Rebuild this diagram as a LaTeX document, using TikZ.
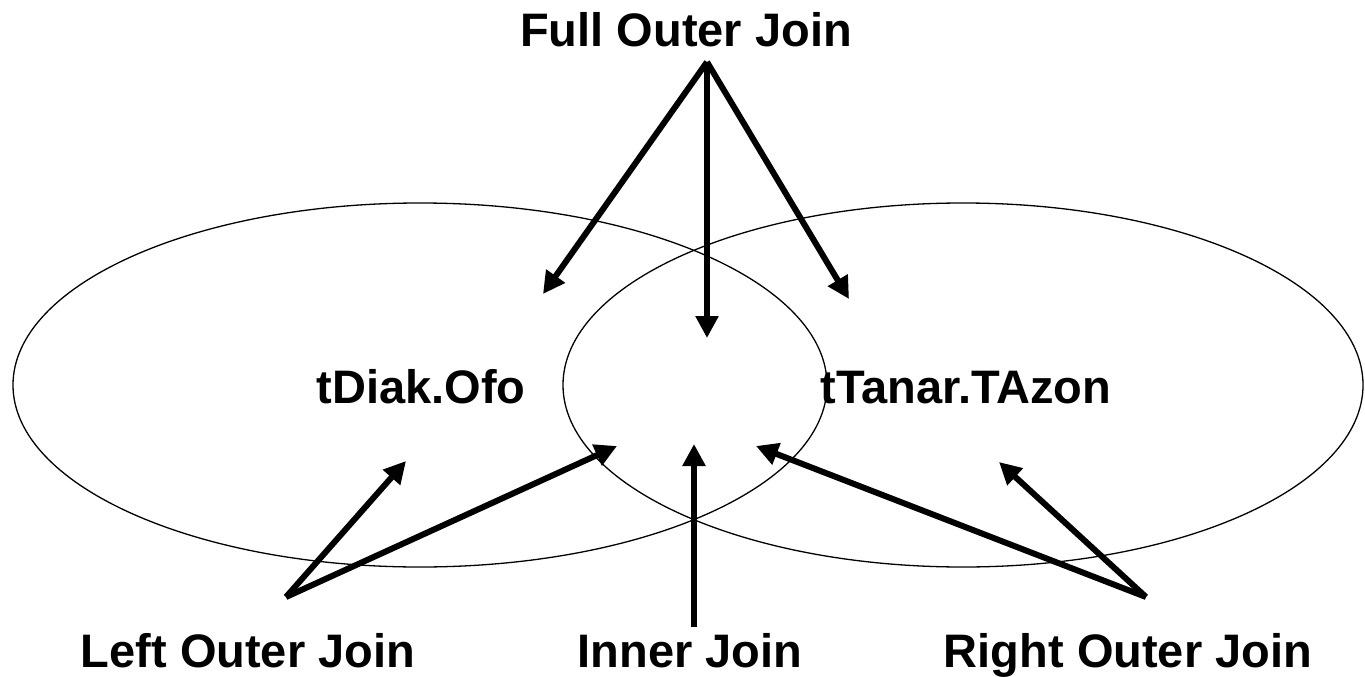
\documentclass[tikz,border=0pt]{standalone}
\usepackage{fontspec}
\setmainfont{Liberation Sans}
\usetikzlibrary{arrows.meta,shapes.geometric}

\tikzset{
  settwo/.style={draw=black, line width=1.3bp, ellipse, inner sep=0pt},
  label/.style={font=\fontsize{47bp}{56bp}\selectfont\bfseries, inner sep=0pt, anchor=base},
  joinarrow/.style={line width=6bp, -{Triangle[length=22bp,width=22bp]}, line join=miter},
}

\begin{document}
\begin{tikzpicture}[x=1bp,y=-1bp]
  \useasboundingbox (0,0) rectangle (1365,677);

  % the two tables as overlapping ellipses
  \node[settwo, minimum width=814bp, minimum height=364bp] (left)  at (420,385) {};
  \node[settwo, minimum width=800bp, minimum height=364bp] (right) at (963,385) {};

  % key column names
  \node[label] (ofo)   at (421,403) {tDiak.Ofo};
  \node[label] (tazon) at (966,403) {tTanar.TAzon};

  % join type labels
  \node[label] (full)  at (686,47)  {Full Outer Join};
  \node[label] (lojn)  at (248,667) {Left Outer Join};
  \node[label] (inner) at (690,667) {Inner Join};
  \node[label] (rojn)  at (1128,667) {Right Outer Join};

  % arrow roots under the labels
  \coordinate (fullroot)  at (707,62);
  \coordinate (leftroot)  at (286,597);
  \coordinate (innerroot) at (694,627);
  \coordinate (rightroot) at (1146,597);

  % arrow targets in the regions
  \coordinate (onlyleft)   at (543,294);
  \coordinate (midtop)     at (707,338);
  \coordinate (onlyright)  at (849,299);
  \coordinate (leftlow)    at (406,461);
  \coordinate (midleft)    at (617,446);
  \coordinate (midlow)     at (694,444);
  \coordinate (midright)   at (756,446);
  \coordinate (rightlow)   at (999,462);

  % Full outer join: all three regions
  \draw[joinarrow] (fullroot) -- (onlyleft);
  \draw[joinarrow] (fullroot) -- (midtop);
  \draw[joinarrow] (fullroot) -- (onlyright);

  % Left outer join
  \draw[joinarrow] (leftroot) -- (leftlow);
  \draw[joinarrow] (leftroot) -- (midleft);

  % Inner join
  \draw[joinarrow] (innerroot) -- (midlow);

  % Right outer join
  \draw[joinarrow] (rightroot) -- (midright);
  \draw[joinarrow] (rightroot) -- (rightlow);
\end{tikzpicture}
\end{document}
